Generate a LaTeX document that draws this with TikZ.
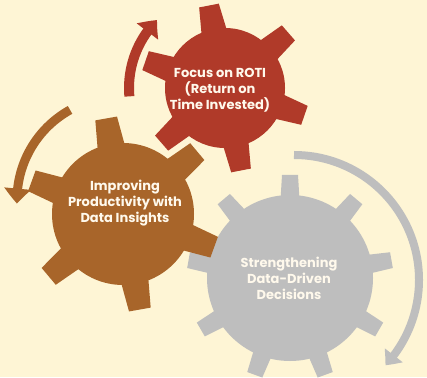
\documentclass[tikz,border=0pt]{standalone}
\usepackage{fontspec}
\setmainfont{Poppins}[BoldFont={Poppins Bold}]
\usetikzlibrary{arrows.meta,bending}
\definecolor{bgc}{HTML}{FEF5D5}
\definecolor{redc}{HTML}{B03A29}
\definecolor{brownc}{HTML}{A8652A}
\definecolor{grayc}{HTML}{BEBEBE}
\definecolor{txtc}{HTML}{FFF9EC}
\tikzset{
  geartext/.style={text=txtc, align=center, font=\bfseries\fontsize{13}{16}\selectfont, inner sep=0pt},
  turnarrow/.style={line width=#1, -{Triangle[length=15pt,width=26pt,bend]}},
}
\begin{document}
\begin{tikzpicture}[x=1pt,y=1pt]
\useasboundingbox (0,0) rectangle (427,377);
\fill[bgc] (0,0) rectangle (427,377);
\coordinate (R) at (225,289);
\coordinate (B) at (123,163);
\coordinate (G) at (290,99);
% gray gear
\fill[grayc] (G) circle[radius=83pt];
\foreach \a in {10,50,...,330}
  \fill[grayc, shift={(G)}, rotate=\a] (78,-9.5) -- (103,-8) -- (103,8) -- (78,9.5) -- cycle;
% brown gear
\fill[brownc] (B) circle[radius=71pt];
\foreach \a in {40,100,...,340}
  \fill[brownc, shift={(B)}, rotate=\a] (65,-14) -- (97,-11) -- (97,11) -- (65,14) -- cycle;
% red gear
\fill[redc] (R) circle[radius=60pt];
\foreach \a in {41,101,...,341}
  \fill[redc, shift={(R)}, rotate=\a] (55,-13) -- (84,-10) -- (84,10) -- (55,13) -- cycle;
% arrows
\coordinate (RA) at (225,289);
\coordinate (BA) at (120,177);
\coordinate (GA) at (294,97);
\draw[redc, turnarrow=10pt] (RA) ++(185:96) arc[start angle=185, end angle=135, radius=96pt];
\draw[brownc, turnarrow=9pt] (BA) ++(119:103) arc[start angle=119, end angle=182, radius=103pt];
\draw[grayc, line width=8pt, -{Triangle[length=13pt,width=22pt,bend]}] (GA) ++(90:125) arc[start angle=90, end angle=-43, radius=125pt];
% texts
\node[geartext] (rt) at (220,287) {Focus on ROTI\\(Return on\\Time Invested)};
\node[geartext] (bt) at (125,174) {Improving\\Productivity with\\Data Insights};
\node[geartext] (gt) at (289,99) {Strengthening\\Data-Driven\\Decisions};
\end{tikzpicture}
\end{document}
